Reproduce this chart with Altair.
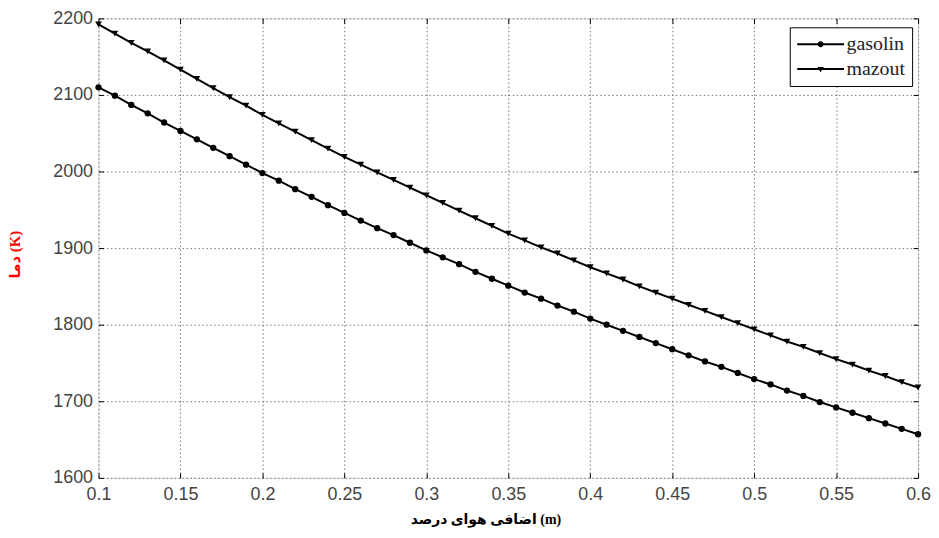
import altair as alt
import pandas as pd

series_names = ["gasolin", "mazout"]

m_values = [0.10, 0.11, 0.12, 0.13, 0.14, 0.15, 0.16, 0.17, 0.18, 0.19,
            0.20, 0.21, 0.22, 0.23, 0.24, 0.25, 0.26, 0.27, 0.28, 0.29,
            0.30, 0.31, 0.32, 0.33, 0.34, 0.35, 0.36, 0.37, 0.38, 0.39,
            0.40, 0.41, 0.42, 0.43, 0.44, 0.45, 0.46, 0.47, 0.48, 0.49,
            0.50, 0.51, 0.52, 0.53, 0.54, 0.55, 0.56, 0.57, 0.58, 0.59,
            0.60]

gasolin = [2110, 2099, 2087, 2076, 2064, 2053, 2042, 2031, 2020, 2009,
           1998, 1988, 1977, 1967, 1956, 1946, 1936, 1926, 1917, 1907,
           1897, 1888, 1879, 1869, 1860, 1851, 1842, 1834, 1825, 1817,
           1808, 1800, 1792, 1784, 1776, 1768, 1760, 1752, 1745, 1737,
           1729, 1722, 1714, 1707, 1699, 1692, 1685, 1678, 1671, 1664,
           1657]

mazout = [2192, 2180, 2168, 2157, 2145, 2133, 2121, 2109, 2097, 2086,
          2074, 2063, 2052, 2041, 2030, 2019, 2009, 1999, 1989, 1979,
          1969, 1959, 1949, 1939, 1929, 1919, 1910, 1901, 1893, 1884,
          1875, 1867, 1859, 1850, 1842, 1834, 1826, 1818, 1810, 1802,
          1794, 1786, 1778, 1771, 1763, 1755, 1748, 1740, 1733, 1725,
          1718]

x_ticks = [0.1, 0.15, 0.2, 0.25, 0.3, 0.35, 0.4, 0.45, 0.5, 0.55, 0.6]
y_ticks = [1600, 1700, 1800, 1900, 2000, 2100, 2200]

x_title = "اضافی هوای درصد (m)"
y_title = "دما (K)"

df = pd.concat([
    pd.DataFrame({"m": m_values, "T": gasolin, "series": "gasolin"}),
    pd.DataFrame({"m": m_values, "T": mazout, "series": "mazout"}),
], ignore_index=True)

xscale = alt.Scale(domain=[0.1, 0.6], nice=False, zero=False)
yscale = alt.Scale(domain=[1600, 2200], nice=False, zero=False)

LFONT = "Liberation Sans, Arial, sans-serif"
SFONT = "Liberation Serif, Times New Roman, serif"
TFONT = "Liberation Serif, Times New Roman, DejaVu Sans, serif"

main_x_axis = alt.Axis(values=x_ticks, format="~g", labelFont=LFONT, labelFontSize=18,
                       labelColor="#444", labelPadding=8, grid=True, gridDash=[1.5, 2.5],
                       gridColor="#777", gridWidth=1, ticks=False, domain=False,
                       title=x_title, titleFont=TFONT,
                       titleFontSize=14, titleFontWeight="bold", titleColor="black",
                       titleX=389, titleY=42, titleAlign="center", titleBaseline="middle",
                       labelFlush=False)
main_y_axis = alt.Axis(values=y_ticks, format="d", labelFont=LFONT, labelFontSize=18,
                       labelColor="#444", labelPadding=6, grid=True, gridDash=[1.5, 2.5],
                       gridColor="#777", gridWidth=1, ticks=False, domain=False,
                       title=y_title, titleFont=TFONT,
                       titleFontSize=15, titleFontWeight="bold", titleColor="red",
                       titleAngle=270, titleX=-84, titleY=237, titleAlign="center",
                       titleBaseline="middle", labelFlush=False)


def tick_axis(orient):
    return alt.Axis(orient=orient, values=x_ticks if orient in ("top", "bottom") else y_ticks,
                    labels=False, grid=False, domain=False, ticks=True, tickSize=5,
                    tickColor="black", tickWidth=1, offset=-5, title=None)


line = alt.Chart(df).mark_line(color="black", strokeWidth=2).encode(
    x=alt.X("m:Q", scale=xscale, axis=main_x_axis),
    y=alt.Y("T:Q", scale=yscale, axis=main_y_axis),
    detail="series:N",
)

gas_points = alt.Chart(df).transform_filter(
    alt.datum.series == "gasolin"
).mark_point(filled=True, color="black", opacity=1, size=40, shape="circle").encode(
    x=alt.X("m:Q", scale=xscale, axis=tick_axis("bottom")),
    y=alt.Y("T:Q", scale=yscale, axis=tick_axis("left")),
)

maz_points = alt.Chart(df).transform_filter(
    alt.datum.series == "mazout"
).mark_point(filled=True, color="black", opacity=1, size=45, shape="triangle-down").encode(
    x=alt.X("m:Q", scale=xscale, axis=None),
    y=alt.Y("T:Q", scale=yscale, axis=None),
)

legend_paths = [
    "M-2.35,-0.1H2.35V0.1H-2.35ZM0.3,0A0.3,0.3,0,1,1,-0.3,0A0.3,0.3,0,1,1,0.3,0Z",
    "M-2.35,-0.1H2.35V0.1H-2.35ZM-0.32,-0.2L0.32,-0.2L0,0.32Z",
]

legend_layer = alt.Chart(df).transform_filter("false").mark_point(
    filled=True, color="black", opacity=1
).encode(
    x=alt.X("m:Q", scale=xscale, axis=tick_axis("top")),
    y=alt.Y("T:Q", scale=yscale, axis=tick_axis("right")),
    shape=alt.Shape("series:N",
                    scale=alt.Scale(domain=series_names, range=legend_paths),
                    legend=alt.Legend(title=None, orient="none", legendX=695, legendY=9,
                                      direction="vertical",
                                      strokeColor="black", fillColor="white",
                                      padding=7, rowPadding=5,
                                      symbolSize=400, symbolOffset=14,
                                      symbolFillColor="black", symbolStrokeColor="black",
                                      symbolStrokeWidth=0, symbolOpacity=1,
                                      labelFont=SFONT, labelFontSize=20, labelColor="#222",
                                      labelOffset=16)),
)

chart = alt.layer(line, gas_points, maz_points, legend_layer).resolve_axis(
    x="independent", y="independent"
).properties(
    width=824, height=462,
    autosize=alt.AutoSizeParams(type="none"),
    padding={"left": 91, "top": 9, "right": 13, "bottom": 50},
).configure_view(
    stroke="black", strokeWidth=1.2
).configure(background="white")

chart.save("out.html", embed_options={"renderer": "svg", "actions": False})
